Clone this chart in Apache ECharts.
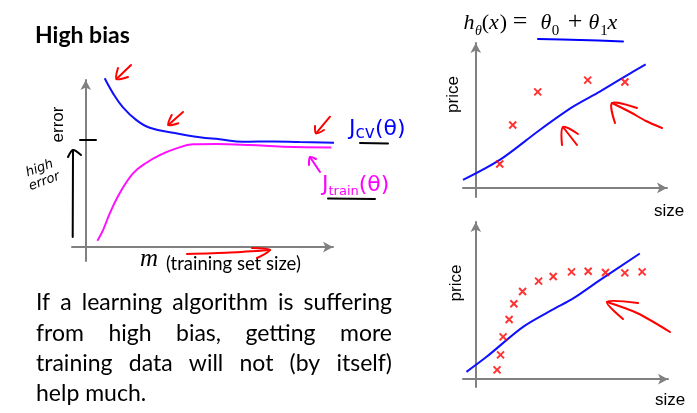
<!DOCTYPE html>
<html><head><meta charset="utf-8">
<script src="https://cdn.jsdelivr.net/npm/echarts@6/dist/echarts.min.js"></script>
<style>html,body{margin:0;padding:0;background:#fff}#c{width:697px;height:413px}</style>
</head><body><div id="c"></div>
<script>
// ---- data (axis units) ----
const jcvPoints = [[1.38,12.12],[1.99,11.04],[2.71,10.04],[3.69,9.12],[4.66,8.57],[6.35,8.21],[8.3,7.88],[9.75,7.74],[11.45,7.56],[13.64,7.59],[15.57,7.54],[18.29,7.49]];
const jtrainPoints = [[0.85,0.45],[1.26,1.22],[1.75,2.42],[2.47,3.86],[3.44,5.29],[4.42,6.06],[5.39,6.61],[6.6,7.09],[7.81,7.38],[9.51,7.4],[11.94,7.33],[14.36,7.21],[17.88,7.16]];
const topSize = [1.88, 2.9, 4.86, 8.78, 11.7];
const topPrice = [2.65, 6.95, 10.6, 11.9, 11.7];
const topFitSize = [-1.0, 1.88, 5.02, 7.63, 9.73, 12.34, 13.33];
const topFitPrice = [0.88, 3.09, 6.4, 8.97, 10.63, 12.84, 13.65];
const botSize = [1.66, 1.93, 2.13, 2.6, 2.97, 3.65, 4.9, 6.04, 7.47, 8.77, 10.12, 11.63, 12.98];
const botPrice = [1.18, 3.09, 5.38, 7.6, 9.6, 11.16, 12.47, 13.07, 13.65, 13.74, 13.58, 13.52, 13.65];
const botFitSize = [-0.73, 0.84, 3.69, 6.03, 7.6, 9.68, 12.8];
const botFitPrice = [0.93, 2.84, 6.65, 8.87, 10.27, 12.6, 15.99];
const paragraphLines = ["If a learning algorithm is suffering", "from high bias, getting more", "training data will not (by itself)", "help much."];
const formulaTokens = ["h", "θ", "(", "x", ")", "=", "θ", "0", "+", "θ", "1", "x"];

const zip = (a, b) => a.map((v, i) => [v, b[i]]);
const chart = echarts.init(document.getElementById('c'), null, {renderer: 'canvas'});

const AX = '#808080';
function mkAxis(grid, min, max) {
  return {gridIndex: grid, type: 'value', min: min, max: max,
    axisLine: {show: true, onZero: true, symbol: ['none', 'arrow'], symbolSize: [8, 10], lineStyle: {color: AX, width: 2}},
    axisTick: {show: false}, axisLabel: {show: false}, splitLine: {show: false}};
}
const cross = 'path://M0,0L10,10M10,0L0,10';
const crossStyle = {color: 'rgba(0,0,0,0)', borderColor: '#ff0000', borderWidth: 2};

// ---- paragraph (justified) ----
const PFONT = 'Lato';
const mctx = document.createElement('canvas').getContext('2d');
let pfs = 22;
mctx.font = pfs + 'px ' + PFONT;
const w1 = mctx.measureText(paragraphLines[0]).width;
pfs = Math.min(23, pfs * 352 / w1);
mctx.font = pfs + 'px ' + PFONT;
const pLeft = 36, pRight = 392, pTop = 303, pStep = 30.2;
const paraEls = [];
paragraphLines.forEach((line, li) => {
  const words = line.split(' ');
  const widths = words.map(w => mctx.measureText(w).width);
  const total = widths.reduce((a, b) => a + b, 0);
  const last = li === paragraphLines.length - 1;
  const gap = last ? mctx.measureText(' ').width : (pRight - pLeft - total) / (words.length - 1);
  let x = pLeft;
  words.forEach((w, i) => {
    paraEls.push({type: 'text', x: x, y: pTop + li * pStep,
      style: {text: w, fill: '#000', font: pfs + 'px ' + PFONT, textVerticalAlign: 'middle', textAlign: 'left'}});
    x += widths[i] + gap;
  });
});

// ---- formula tokens (LaTeX-like spacing, centred on each glyph) ----
const fX = [469, 478.5, 485.5, 494, 503.5, 520, 546, 555.5, 575, 594, 604, 612.5];
const fKind = ['i', 's', 'r', 'i', 'r', 'o', 'i', 'n', 'o', 'i', 'n', 'i'];
const formulaEls = formulaTokens.map((t, i) => {
  const k = fKind[i];
  const font = k === 'i' ? 'italic 22px "Liberation Serif"' : k === 'r' ? '22px "Liberation Serif"'
    : k === 'o' ? '26px "Liberation Serif"'
    : k === 's' ? 'italic 14px "Liberation Serif"' : '15px "Liberation Serif"';
  return {type: 'text', x: fX[i], y: (k === 's' || k === 'n') ? 31 : (k === 'o' ? 22 : 23),
    style: {text: t, font: font, fill: '#000', textAlign: 'center', textVerticalAlign: 'middle'}};
});

// ---- hand-drawn annotations ----
const RED = '#ff0000', MAG = '#ff00ff', BLUE = '#0000ff', BLK = '#000';
const strokes = [
  [RED, [[131,65],[116.5,79]]], [RED, [[118,68],[116.5,79],[128,77]]],
  [RED, [[183,112],[168.3,125]]], [RED, [[171.7,115],[168.3,125],[178.3,123.3]]],
  [RED, [[330,116.7],[316,133.3]]], [RED, [[315,126],[316,133.3],[324,130]]],
  [RED, [[187,254],[230,252.5],[270,250]]], [RED, [[252,248],[270,250],[257,258]]],
  [MAG, [[320,172],[310,157]]], [MAG, [[309,165],[310,157],[316,159]]],
  [BLK, [[72.7,237],[73,150]]], [BLK, [[68,157],[73,150],[81,155]]],
  [BLK, [[80,140],[96,140]]],
  [BLK, [[360,143],[388,143.5]]],
  [BLK, [[328,198.5],[375,199]]],
  [BLUE, [[538,39],[580,40],[623,41.5]]],
  [RED, [[577,145],[563,127]]], [RED, [[562,145],[563,127],[578,134]]],
  [RED, [[662,128],[646,121],[630,112],[612,103]]], [RED, [[615,123],[612,103],[637,108]]],
  [RED, [[670,332],[637,313],[607,302]]], [RED, [[638,303],[607,302],[623,319]]]
];
const strokeEls = strokes.map(s => ({type: 'polyline', shape: {points: s[1], smooth: 0.3},
  style: {stroke: s[0], lineWidth: 2, fill: null, lineCap: 'round', lineJoin: 'round'}, z: 10}));

const txt = (x, y, text, font, extra) => Object.assign({type: 'text', x: x, y: y,
  style: Object.assign({text: text, font: font, fill: '#000', textAlign: 'center', textVerticalAlign: 'middle'}, (extra && extra.style) || {})},
  (extra && extra.el) || {});

const labelEls = [
  txt(35, 36, 'High bias', 'bold 23px Lato', {style: {textAlign: 'left'}}),
  txt(58, 124.5, 'error', '17px "Liberation Sans"', {el: {rotation: Math.PI / 2}}),
  txt(453.5, 94.5, 'price', '17px "Liberation Sans"', {el: {rotation: Math.PI / 2}}),
  txt(456, 283, 'price', '17px "Liberation Sans"', {el: {rotation: Math.PI / 2}}),
  txt(669, 211, 'size', '17px "Liberation Sans"'),
  txt(670, 400, 'size', '17px "Liberation Sans"'),
  txt(140, 259, 'm', 'italic 25px "Liberation Serif"', {style: {textAlign: 'left'}}),
  txt(166, 264.5, '(training set size)', '18.5px Lato', {style: {textAlign: 'left'}}),
  txt(42, 175, 'high\nerror', 'italic 13px "DejaVu Sans"', {el: {rotation: 0.35}, style: {lineHeight: 14}}),
  {type: 'text', x: 349, y: 129, style: {text: '{a|J}{b|cv}{a|(θ)}', textVerticalAlign: 'middle', fill: BLUE,
    rich: {a: {fontSize: 22, fontFamily: 'DejaVu Sans', color: BLUE, lineHeight: 26},
           b: {fontSize: 17, fontFamily: 'DejaVu Sans', color: BLUE, lineHeight: 20, verticalAlign: 'bottom'}}}},
  {type: 'text', x: 322, y: 185, style: {text: '{a|J}{b|train}{a|(θ)}', textVerticalAlign: 'middle', fill: MAG,
    rich: {a: {fontSize: 22, fontFamily: 'DejaVu Sans', color: MAG, lineHeight: 26},
           b: {fontSize: 13, fontFamily: 'DejaVu Sans', color: MAG, lineHeight: 16, verticalAlign: 'bottom'}}}}
];

const option = {
  animation: false,
  backgroundColor: '#fff',
  grid: [
    {left: 72, top: 80, width: 261, height: 181, containLabel: false, outerBoundsMode: 'none'},
    {left: 463, top: 43, width: 204, height: 154, containLabel: false, outerBoundsMode: 'none'},
    {left: 463, top: 222, width: 205, height: 165, containLabel: false, outerBoundsMode: 'none'}
  ],
  xAxis: [mkAxis(0, -1, 18), mkAxis(1, -1, 15), mkAxis(2, -1, 15)],
  yAxis: [mkAxis(0, -1, 12), mkAxis(1, -1, 16), mkAxis(2, -1, 20)],
  series: [
    {type: 'line', xAxisIndex: 0, yAxisIndex: 0, data: jcvPoints, smooth: 0.4, showSymbol: false, clip: false,
      lineStyle: {color: '#1010ff', width: 2}},
    {type: 'line', xAxisIndex: 0, yAxisIndex: 0, data: jtrainPoints, smooth: 0.4, showSymbol: false, clip: false,
      lineStyle: {color: '#ff10ff', width: 2}},
    {type: 'line', xAxisIndex: 1, yAxisIndex: 1, data: zip(topFitSize, topFitPrice), smooth: 0.3, showSymbol: false, clip: false,
      lineStyle: {color: '#1010ff', width: 2}},
    {type: 'scatter', xAxisIndex: 1, yAxisIndex: 1, data: zip(topSize, topPrice), symbol: cross, symbolSize: 7, itemStyle: crossStyle, z: 5},
    {type: 'line', xAxisIndex: 2, yAxisIndex: 2, data: zip(botFitSize, botFitPrice), smooth: 0.3, showSymbol: false, clip: false,
      lineStyle: {color: '#1010ff', width: 2}},
    {type: 'scatter', xAxisIndex: 2, yAxisIndex: 2, data: zip(botSize, botPrice), symbol: cross, symbolSize: 7, itemStyle: crossStyle, z: 5}
  ],
  graphic: {elements: [].concat(labelEls, formulaEls, paraEls, strokeEls)}
};
chart.setOption(option);
</script></body></html>
